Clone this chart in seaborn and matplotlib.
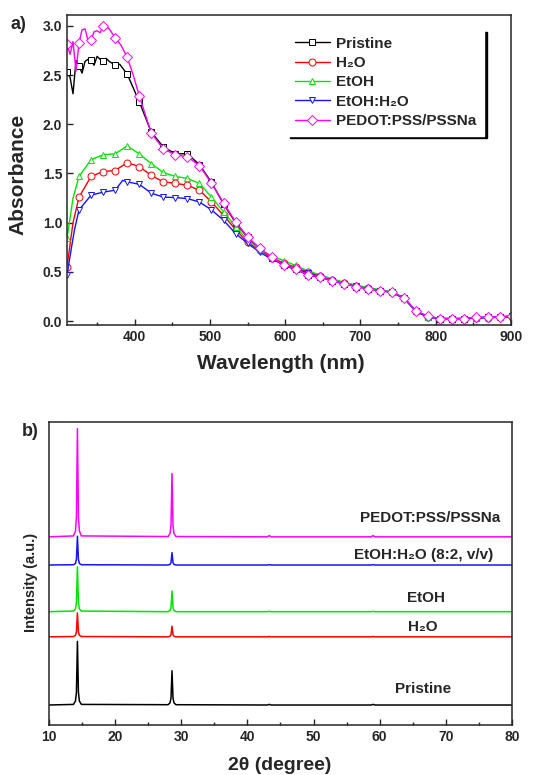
import numpy as np
import pandas as pd
import matplotlib
matplotlib.use("Agg")
import matplotlib.pyplot as plt
import seaborn as sns
from matplotlib.lines import Line2D
from matplotlib.ticker import MultipleLocator

# ---------------- a) UV-vis absorbance ----------------
# marker positions (nm)
wl_marks = [310, 326, 342, 358, 374, 390, 406, 422, 438, 454, 470, 486, 502,
            518, 534, 550, 566, 582, 598, 614, 630, 646, 662, 678, 694, 710,
            726, 742, 758, 774, 790, 806, 822, 838, 854, 870, 886, 902]

pristine = [2.53, 2.59, 2.65, 2.64, 2.60, 2.51, 2.23, 1.92, 1.77, 1.70, 1.70, 1.59, 1.41,
            1.19, 1.00, 0.85, 0.735, 0.645, 0.565, 0.525, 0.47, 0.445, 0.41, 0.38, 0.35, 0.33,
            0.31, 0.295, 0.235, 0.10, 0.045, 0.025, 0.025, 0.025, 0.035, 0.04, 0.045, 0.05]
h2o = [0.55, 1.26, 1.47, 1.52, 1.53, 1.61, 1.57, 1.48, 1.415, 1.40, 1.38, 1.33, 1.21,
       1.075, 0.93, 0.80, 0.72, 0.645, 0.59, 0.545, 0.50, 0.46, 0.42, 0.39, 0.36, 0.335,
       0.31, 0.295, 0.23, 0.10, 0.04, 0.025, 0.025, 0.025, 0.03, 0.035, 0.04, 0.045]
etoh = [0.84, 1.47, 1.64, 1.69, 1.70, 1.78, 1.70, 1.60, 1.51, 1.47, 1.45, 1.40, 1.26,
        1.11, 0.96, 0.82, 0.73, 0.66, 0.615, 0.565, 0.51, 0.47, 0.43, 0.395, 0.365, 0.34,
        0.32, 0.30, 0.235, 0.10, 0.045, 0.03, 0.03, 0.03, 0.035, 0.04, 0.045, 0.05]
etoh_h2o = [0.465, 1.13, 1.28, 1.31, 1.33, 1.415, 1.39, 1.30, 1.26, 1.255, 1.245, 1.21, 1.13,
            1.025, 0.89, 0.79, 0.70, 0.63, 0.575, 0.53, 0.49, 0.45, 0.41, 0.38, 0.355, 0.33,
            0.31, 0.29, 0.23, 0.095, 0.04, 0.025, 0.025, 0.025, 0.03, 0.035, 0.04, 0.045]
pedot = [2.82, 2.83, 2.86, 3.00, 2.88, 2.68, 2.29, 1.91, 1.75, 1.69, 1.67, 1.58, 1.40,
         1.20, 1.01, 0.855, 0.74, 0.65, 0.57, 0.53, 0.47, 0.45, 0.41, 0.38, 0.35, 0.33,
         0.31, 0.295, 0.235, 0.10, 0.05, 0.025, 0.025, 0.025, 0.04, 0.04, 0.045, 0.05]

# extra points between markers (noisy / curved regions)
pristine_xwl = [314, 318, 322, 330, 334, 338, 346, 350, 354, 362, 366, 380, 384, 398]
pristine_x = [2.48, 2.31, 2.65, 2.52, 2.64, 2.66, 2.60, 2.69, 2.66, 2.67, 2.64, 2.61, 2.57, 2.37]
h2o_xwl = [318]
h2o_x = [1.00]
etoh_xwl = [318]
etoh_x = [1.25]
etoh_h2o_xwl = [316, 320, 384]
etoh_h2o_x = [0.75, 0.93, 1.43]
pedot_xwl = [314, 318, 322, 330, 334, 338, 346, 350, 354, 362, 366, 382, 398]
pedot_x = [2.71, 2.84, 2.54, 2.96, 2.97, 2.85, 2.94, 2.95, 2.93, 2.99, 2.97, 2.80, 2.50]

uv_labels = ["Pristine", "H\u2082O", "EtOH", "EtOH:H\u2082O", "PEDOT:PSS/PSSNa"]
uv_colors = ["black", "#ff0000", "#00e600", "#1414ff", "#ff00ff"]
uv_markers = ["s", "o", "^", "v", "D"]

# ---------------- b) XRD ----------------
two_theta = [10, 13.7, 14.0, 14.15, 14.3, 14.45, 14.6, 14.9, 28.0, 28.3, 28.45, 28.6,
             28.75, 28.9, 29.2, 43.0, 43.3, 43.6, 58.7, 59.0, 59.3, 80]
xrd_pristine = [6.6, 6.8, 7.9, 10.8, 27.6, 10.8, 7.9, 6.8, 6.7, 7.3, 8.9, 17.9,
                8.9, 7.3, 6.7, 6.6, 6.8, 6.6, 6.6, 6.8, 6.6, 6.6]
xrd_h2o = [29.1, 29.2, 29.6, 30.7, 37.0, 30.7, 29.6, 29.2, 29.1, 29.3, 29.8, 32.6,
           29.8, 29.3, 29.1, 29.1, 29.2, 29.1, 29.1, 29.2, 29.1, 29.1]
xrd_etoh = [37.4, 37.6, 38.3, 40.4, 52.2, 40.4, 38.3, 37.6, 37.4, 37.8, 38.8, 44.2,
            38.8, 37.8, 37.4, 37.4, 37.5, 37.4, 37.4, 37.5, 37.4, 37.4]
xrd_etoh_h2o = [52.8, 52.9, 53.3, 54.7, 62.3, 54.7, 53.3, 52.9, 52.8, 53.0, 53.6, 56.9,
                53.6, 53.0, 52.8, 52.8, 52.9, 52.8, 52.8, 52.9, 52.8, 52.8]
xrd_pedot = [62.1, 62.4, 64.0, 68.5, 97.8, 68.5, 64.0, 62.4, 62.2, 63.2, 65.8, 83.0,
             65.8, 63.2, 62.2, 62.1, 62.5, 62.1, 62.1, 62.5, 62.1, 62.1]

xrd_labels = ["Pristine", "H\u2082O", "EtOH", "EtOH:H\u2082O (8:2, v/v)", "PEDOT:PSS/PSSNa"]
xrd_label_pos = [(66.6, 11.8), (66.5, 32.4), (67.0, 41.8), (66.7, 56.0), (67.6, 68.3)]

# ---------------- style ----------------
sns.set_style("ticks")
plt.rcParams["font.family"] = ["Liberation Sans", "DejaVu Sans"]
plt.rcParams["font.weight"] = "bold"
plt.rcParams["axes.labelweight"] = "bold"
plt.rcParams["xtick.direction"] = "in"
plt.rcParams["ytick.direction"] = "in"
plt.rcParams["axes.linewidth"] = 1.1

fig = plt.figure(figsize=(5.33, 7.75), dpi=100)
ax1 = fig.add_axes([0.1257, 0.5806, 0.833, 0.400])
ax2 = fig.add_axes([0.0919, 0.0645, 0.8687, 0.391])

# ---- panel a ----
series = [(pristine, pristine_xwl, pristine_x), (h2o, h2o_xwl, h2o_x),
          (etoh, etoh_xwl, etoh_x), (etoh_h2o, etoh_h2o_xwl, etoh_h2o_x),
          (pedot, pedot_xwl, pedot_x)]
handles = []
for (marks, xwl, xv), lab, c, m in zip(series, uv_labels, uv_colors, uv_markers):
    df = pd.DataFrame({"wl": wl_marks + xwl, "A": marks + xv}).sort_values("wl")
    sns.lineplot(data=df, x="wl", y="A", color=c, lw=1.0, ax=ax1, errorbar=None)
    sns.lineplot(x=wl_marks, y=marks, color=c, linestyle="none", marker=m, ms=5,
                 markerfacecolor="white", markeredgecolor=c, markeredgewidth=0.7,
                 ax=ax1, errorbar=None)
    handles.append(Line2D([], [], color=c, lw=1.0, marker=m, ms=5, markerfacecolor="white",
                          markeredgecolor=c, markeredgewidth=0.7))

ax1.set_xlim(310, 900)
ax1.set_ylim(-0.04, 3.11)
ax1.xaxis.set_major_locator(MultipleLocator(100))
ax1.xaxis.set_minor_locator(MultipleLocator(50))
ax1.yaxis.set_major_locator(MultipleLocator(0.5))
ax1.yaxis.set_major_formatter(matplotlib.ticker.FormatStrFormatter("%.1f"))
ax1.tick_params(which="major", length=4, width=1, labelsize=10)
ax1.tick_params(which="minor", length=2.5, width=1)
ax1.set_xlabel("Wavelength (nm)", fontsize=15)
ax1.set_ylabel("Absorbance", fontsize=15)
ax1.xaxis.set_label_coords(0.482, -0.095)
ax1.yaxis.set_label_coords(-0.088, 0.487)
leg = ax1.legend(handles, uv_labels, loc="upper right", bbox_to_anchor=(0.939, 0.955),
                 borderaxespad=0, fancybox=False, edgecolor="white",
                 shadow={"color": "black", "alpha": 1}, framealpha=1,
                 prop={"weight": "bold", "size": 11}, handlelength=2.3,
                 labelspacing=0.35, borderpad=0.5, handletextpad=0.4)
fig.text(0.019, 0.969, "a)", fontsize=13, fontweight="bold", va="center")

# ---- panel b ----
xrd_series = [xrd_pristine, xrd_h2o, xrd_etoh, xrd_etoh_h2o, xrd_pedot]
for vals, c in zip(xrd_series, uv_colors):
    sns.lineplot(x=two_theta, y=vals, color=c, lw=1.1, ax=ax2, errorbar=None)
for lab, (x, y) in zip(xrd_labels, xrd_label_pos):
    ax2.text(x, y, lab, ha="center", va="center", fontsize=11, fontweight="bold")

ax2.set_xlim(10, 80)
ax2.set_ylim(0, 100)
ax2.xaxis.set_major_locator(MultipleLocator(10))
ax2.xaxis.set_minor_locator(MultipleLocator(5))
ax2.set_yticks([])
ax2.tick_params(which="major", length=4, width=1, labelsize=10)
ax2.tick_params(which="minor", length=2.5, width=1)
ax2.set_xlabel("2\u03b8 (degree)", fontsize=14)
ax2.set_ylabel("Intensity (a.u.)", fontsize=10.5)
ax2.xaxis.set_label_coords(0.499, -0.105)
ax2.yaxis.set_label_coords(-0.024, 0.472)
fig.text(0.041, 0.443, "b)", fontsize=13, fontweight="bold", va="center")

fig.savefig("out.png", dpi=100)
